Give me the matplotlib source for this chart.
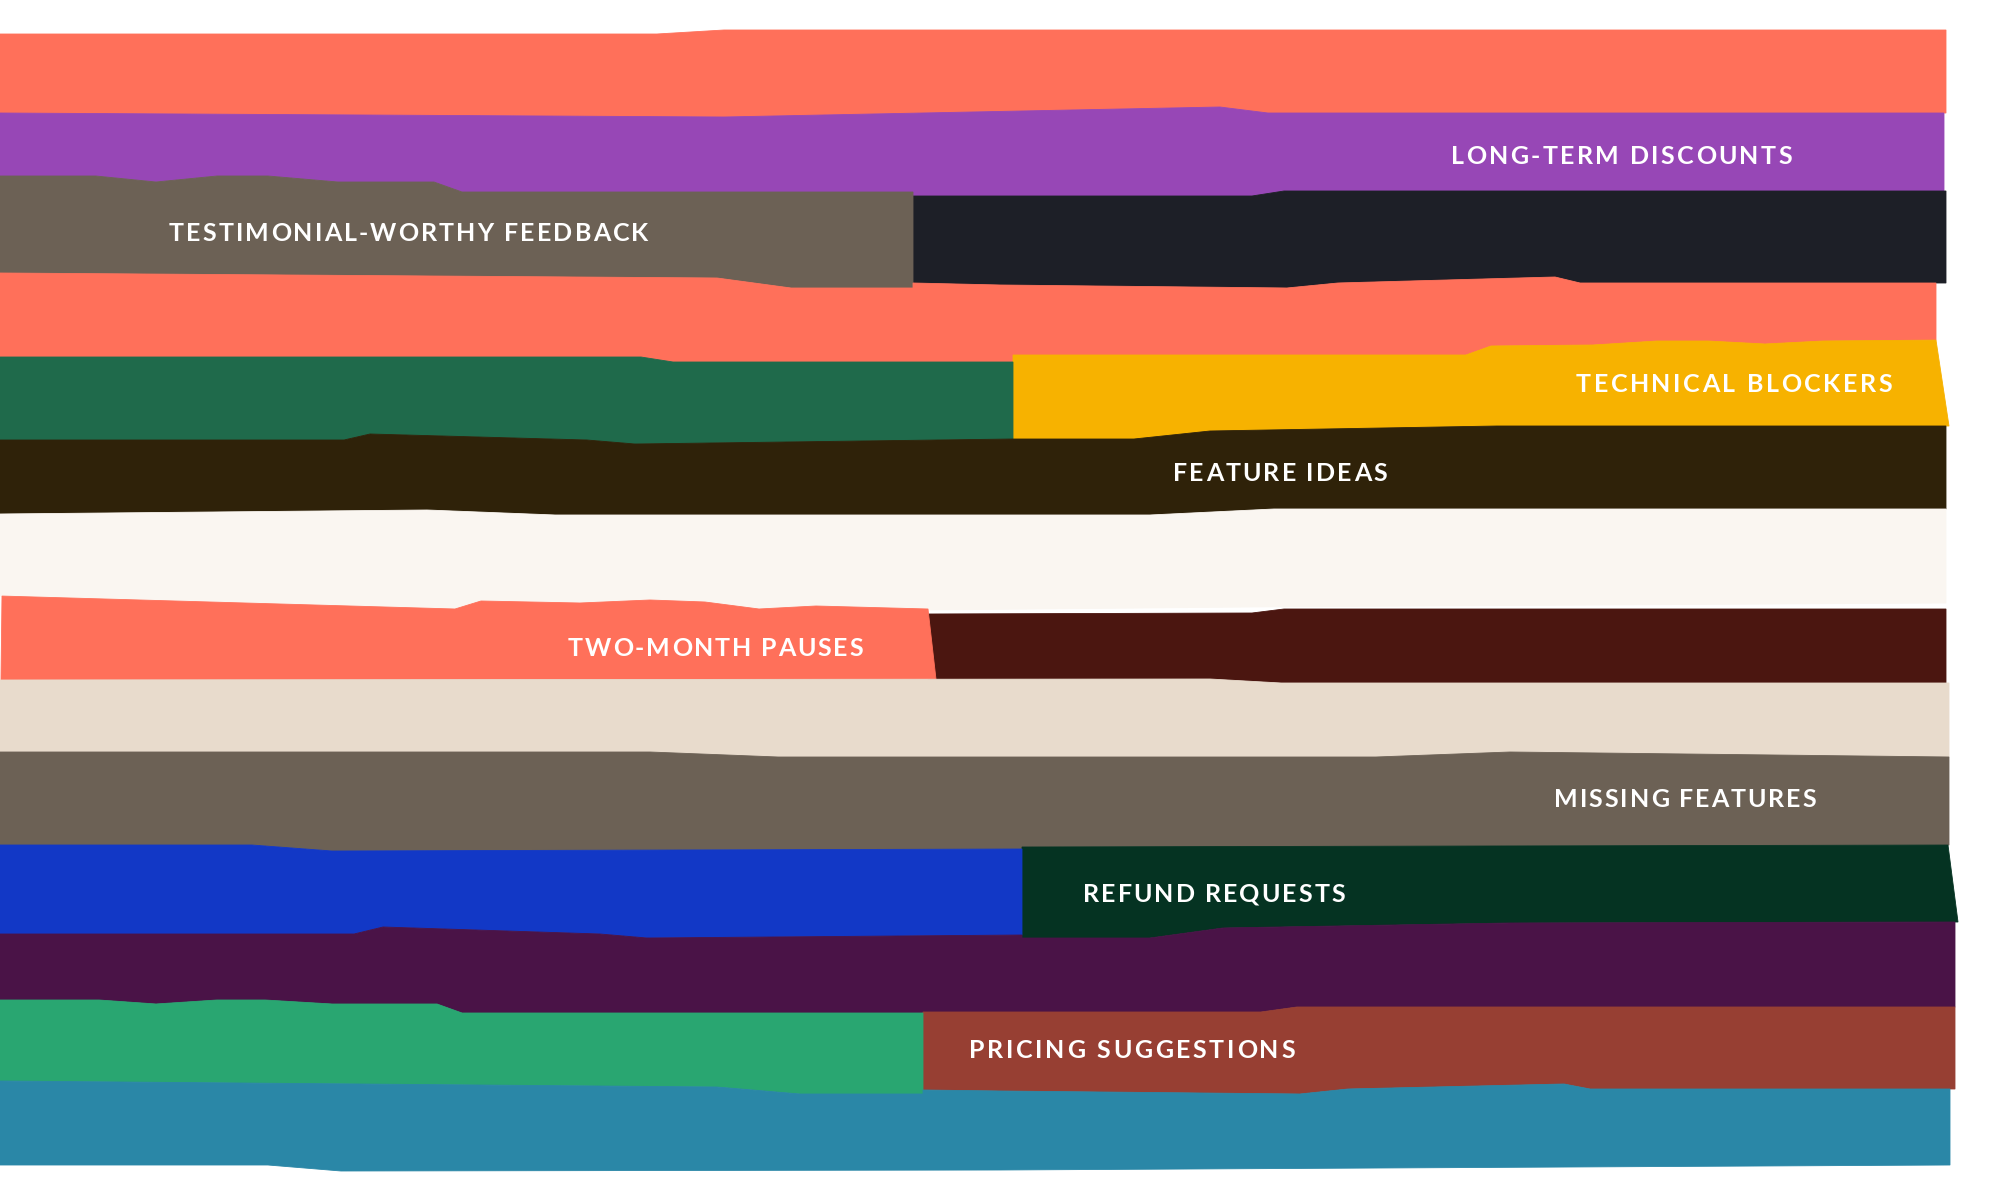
import numpy as np
import matplotlib
matplotlib.use("Agg")
import matplotlib.pyplot as plt
from matplotlib.patches import Polygon
from matplotlib.transforms import offset_copy
from matplotlib.font_manager import FontProperties, findfont
from matplotlib.ft2font import FT2Font

# ---------------- data: band boundaries (position along x, level along y) ----------------
b0_x = [0, 657, 724, 1946]
b0_y = [34, 34, 30, 30]
b1_x = [0, 724, 1220, 1268, 1946]
b1_y = [113, 117, 107, 113, 113]
b2_x = [0, 96, 156, 217, 268, 338, 434, 462, 913, 913, 1252, 1284, 1946]
b2_y = [176, 176, 182, 176, 176, 182, 182, 192, 192, 196, 196, 191, 191]
b3_x = [0, 717, 791, 913, 913, 1000, 1287, 1338, 1555, 1580, 1946]
b3_y = [273, 278, 288, 288, 283, 285, 288, 283, 277, 283, 283]
b4_x = [0, 641, 673, 1013, 1013, 1466, 1491, 1593, 1657, 1708, 1765, 1823, 1949]
b4_y = [357, 357, 362, 362, 355, 355, 346, 345, 341, 341, 344, 341, 340]
b5_x = [0, 344, 370, 587, 635, 1013, 1134, 1210, 1497, 1949]
b5_y = [440, 440, 434, 440, 444, 439, 439, 431, 426, 426]
b6_x = [0, 427, 555, 1150, 1274, 1949]
b6_y = [514, 510, 515, 515, 509, 509]
cream_bottom_x = [0, 455, 481, 580, 650, 705, 759, 816, 928, 1250, 1600, 1946]
cream_bottom_y = [596, 609, 601, 603, 600, 602, 609, 606, 610, 607, 605, 603]
b7_x = [0, 455, 481, 580, 650, 705, 759, 816, 928, 928, 1252, 1284, 1946]
b7_y = [596, 609, 601, 603, 600, 602, 609, 606, 609, 614, 613, 609, 609]
b8_x = [0, 1210, 1281, 1949]
b8_y = [680, 679, 683, 683]
b9_x = [0, 650, 778, 1376, 1510, 1949]
b9_y = [752, 752, 757, 757, 752, 757]
b10_x = [0, 252, 332, 1022, 1022, 1958]
b10_y = [845, 845, 851, 849, 847, 845]
b11_x = [0, 354, 383, 600, 647, 1022, 1022, 1150, 1223, 1510, 1958]
b11_y = [934, 934, 927, 934, 938, 935, 938, 938, 928, 923, 922]
b12_x = [0, 99, 156, 217, 265, 332, 437, 462, 923, 923, 1261, 1297, 1955]
b12_y = [1000, 1000, 1004, 1000, 1000, 1004, 1004, 1013, 1013, 1012, 1012, 1007, 1007]
b13_x = [0, 717, 800, 923, 923, 1000, 1300, 1348, 1564, 1590, 1955]
b13_y = [1081, 1087, 1094, 1094, 1090, 1091, 1094, 1089, 1084, 1089, 1089]
b14_x = [0, 268, 341, 1000, 1950]
b14_y = [1165, 1165, 1171, 1170, 1165]

# segment spans: (start top, start bottom, end top, end bottom)
span_coral1 = (0, 0, 1946, 1946)
span_purple = (0, 0, 1944, 1944)
span_testimonial = (0, 0, 913, 913)
span_navy = (913, 913, 1946, 1946)
span_coral2 = (0, 0, 1936, 1936)
span_green1 = (0, 0, 1013, 1013)
span_technical = (1013, 1013, 1936, 1949)
span_feature = (0, 0, 1946, 1946)
span_cream = (0, 0, 1946, 1946)
span_maroon = (928, 928, 1946, 1946)
span_pauses = (2, 1, 928, 936)
span_beige = (0, 0, 1949, 1949)
span_missing = (0, 0, 1949, 1949)
span_blue = (0, 0, 1022, 1022)
span_refund = (1022, 1022, 1948, 1958)
span_plum = (0, 0, 1955, 1955)
span_green2 = (0, 0, 923, 923)
span_pricing = (923, 923, 1955, 1955)
span_teal = (0, 0, 1950, 1950)

colors = {
    "coral": "#FF705A", "purple": "#9747B6", "taupe": "#6C6155", "navy": "#1D1F27",
    "forest": "#1F6A4B", "amber": "#F7B200", "espresso": "#2F2209", "cream": "#FAF6F1",
    "maroon": "#4B1610", "sand": "#E8DBCC", "blue": "#1238C6", "pine": "#053322",
    "plum": "#4A1347", "jade": "#29A671", "brick": "#973F33", "teal": "#2A87A7",
}

labels = ["LONG-TERM DISCOUNTS", "TESTIMONIAL-WORTHY FEEDBACK", "TECHNICAL BLOCKERS",
          "FEATURE IDEAS", "TWO-MONTH PAUSES", "MISSING FEATURES", "REFUND REQUESTS",
          "PRICING SUGGESTIONS"]
label_x0 = [1451, 169, 1576, 1173, 568, 1554, 1083, 969]
label_x1 = [1791, 647, 1891, 1386, 862, 1815, 1344, 1294]
label_y = [155, 232, 383, 472, 647, 798, 893, 1049]

# ---------------- drawing ----------------
W, H, DPI = 2000, 1200, 100
fig = plt.figure(figsize=(W / DPI, H / DPI), dpi=DPI, facecolor="white")
ax = fig.add_axes([0, 0, 1, 1])
ax.set_xlim(0, W)
ax.set_ylim(H, 0)
ax.axis("off")


def value_at(xs, ys, x, side):
    xs = np.asarray(xs, float)
    ys = np.asarray(ys, float)
    if side == "left":
        i = np.searchsorted(xs, x, side="left")
        if i < len(xs) and xs[i] == x:
            return ys[i]
    else:
        i = np.searchsorted(xs, x, side="right") - 1
        if i >= 0 and xs[i] == x:
            return ys[i]
    return float(np.interp(x, xs, ys))


def band(top, bottom, span, color):
    tx, ty = top
    bx, by = bottom
    xl_t, xl_b, xr_t, xr_b = span
    pts = [(xl_t, value_at(tx, ty, xl_t, "right"))]
    pts += [(x, y) for x, y in zip(tx, ty) if xl_t < x < xr_t]
    pts.append((xr_t, value_at(tx, ty, xr_t, "left")))
    pts.append((xr_b, value_at(bx, by, xr_b, "left")))
    pts += [(x, y) for x, y in reversed(list(zip(bx, by))) if xl_b < x < xr_b]
    pts.append((xl_b, value_at(bx, by, xl_b, "right")))
    ax.add_patch(Polygon(pts, closed=True, facecolor=color, edgecolor=color,
                         linewidth=0.6, joinstyle="miter"))


B = {
    0: (b0_x, b0_y), 1: (b1_x, b1_y), 2: (b2_x, b2_y), 3: (b3_x, b3_y),
    4: (b4_x, b4_y), 5: (b5_x, b5_y), 6: (b6_x, b6_y), "c": (cream_bottom_x, cream_bottom_y),
    7: (b7_x, b7_y), 8: (b8_x, b8_y), 9: (b9_x, b9_y), 10: (b10_x, b10_y),
    11: (b11_x, b11_y), 12: (b12_x, b12_y), 13: (b13_x, b13_y), 14: (b14_x, b14_y),
}

band(B[0], B[1], span_coral1, colors["coral"])
band(B[1], B[2], span_purple, colors["purple"])
band(B[2], B[3], span_navy, colors["navy"])
band(B[2], B[3], span_testimonial, colors["taupe"])
band(B[3], B[4], span_coral2, colors["coral"])
band(B[4], B[5], span_technical, colors["amber"])
band(B[4], B[5], span_green1, colors["forest"])
band(B[5], B[6], span_feature, colors["espresso"])
band(B[6], B["c"], span_cream, colors["cream"])
band(B[7], B[8], span_maroon, colors["maroon"])
band(B[7], B[8], span_pauses, colors["coral"])
band(B[8], B[9], span_beige, colors["sand"])
band(B[9], B[10], span_missing, colors["taupe"])
band(B[10], B[11], span_refund, colors["pine"])
band(B[10], B[11], span_blue, colors["blue"])
band(B[11], B[12], span_plum, colors["plum"])
band(B[12], B[13], span_pricing, colors["brick"])
band(B[12], B[13], span_green2, colors["jade"])
band(B[13], B[14], span_teal, colors["teal"])

# ---------------- letter-spaced labels ----------------
FS = 18
fp = FontProperties(family=["Lato", "DejaVu Sans"], weight="bold", size=FS)
ft = FT2Font(findfont(fp))
ft.set_size(FS, 72)
try:
    from matplotlib.ft2font import LoadFlags
    NOHINT = LoadFlags.NO_HINTING
except Exception:
    from matplotlib.ft2font import LOAD_NO_HINTING as NOHINT


def advance(c):
    g = ft.load_char(ord(c), flags=NOHINT)
    return g.linearHoriAdvance / 65536.0


cap_px = 0.7165 * FS * DPI / 72.0
for text, x0, x1, yc in zip(labels, label_x0, label_x1, label_y):
    advs = [advance(c) for c in text]
    natural = sum(advs[:-1]) + advs[-1] * 0.92
    target_pt = (x1 - x0) * 72.0 / DPI
    track = (target_pt - natural) / (len(text) - 1)
    off = 0.0
    base_y = yc + cap_px / 2.0
    for c, a in zip(text, advs):
        if c != " ":
            tr = offset_copy(ax.transData, fig=fig, x=off, y=0, units="points")
            ax.text(x0, base_y, c, transform=tr, fontproperties=fp, color="white",
                    ha="left", va="baseline")
        off += a + track

fig.savefig("out.png", dpi=DPI, facecolor="white")
